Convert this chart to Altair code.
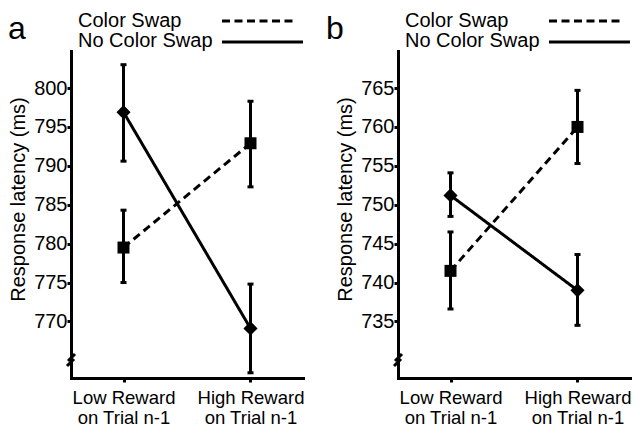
import altair as alt
import pandas as pd

FONT = "Liberation Sans"

conditions = ["Color Swap", "No Color Swap"]
rewards = ["Low Reward", "High Reward"]
label_second_line = "on Trial n-1"
y_title = "Response latency (ms)"
letters = ["a", "b"]

# Panel a values (ms)
a_swap_mean = [779.5, 792.9]
a_swap_lo = [775.0, 787.3]
a_swap_hi = [784.3, 798.3]
a_noswap_mean = [796.9, 769.1]
a_noswap_lo = [790.6, 763.4]
a_noswap_hi = [803.0, 774.8]
a_ticks = [770, 775, 780, 785, 790, 795, 800]
a_domain = [762.73, 804.76]

# Panel b values (ms)
b_swap_mean = [741.5, 760.0]
b_swap_lo = [736.6, 755.3]
b_swap_hi = [746.5, 764.7]
b_noswap_mean = [751.2, 739.0]
b_noswap_lo = [748.5, 734.5]
b_noswap_hi = [754.1, 743.6]
b_ticks = [735, 740, 745, 750, 755, 760, 765]
b_domain = [727.73, 769.76]

H = 327
W = 232


def panel(sm, sl, sh, nm, nl, nh, domain, ticks, letter, letter_x):
    df = pd.DataFrame({
        "reward": rewards * 2,
        "cond": [conditions[0]] * 2 + [conditions[1]] * 2,
        "mean": sm + nm,
        "lo": sl + nl,
        "hi": sh + nh,
    })
    xenc = alt.X(
        "reward:N", sort=rewards,
        scale=alt.Scale(type="point", padding=0.4134),
        axis=alt.Axis(title=None, labelAngle=0,
                      labelExpr="[datum.label, '" + label_second_line + "']"),
    )
    yscale = alt.Scale(domain=domain, nice=False, zero=False)
    yaxis = alt.Axis(values=ticks, title=y_title)

    def Y(field):
        return alt.Y(field + ":Q", scale=yscale, axis=yaxis, title=y_title)

    base = alt.Chart(df).encode(x=xenc)
    lines = base.mark_line(color="black", strokeWidth=3).encode(
        y=Y("mean"), detail="cond:N",
        strokeDash=alt.StrokeDash("cond:N", scale=alt.Scale(domain=conditions, range=[[8, 5], [1, 0]]), legend=None),
    )
    err = base.mark_rule(color="black", strokeWidth=3).encode(y=Y("lo"), y2="hi:Q")
    cap_lo = base.mark_tick(color="black", size=6, thickness=3, opacity=1).encode(y=Y("lo"))
    cap_hi = base.mark_tick(color="black", size=6, thickness=3, opacity=1).encode(y=Y("hi"))
    pts = base.mark_point(filled=True, color="black", opacity=1).encode(
        y=Y("mean"),
        shape=alt.Shape("cond:N", scale=alt.Scale(domain=conditions, range=["square", "diamond"]), legend=None),
        size=alt.Size("cond:N", scale=alt.Scale(domain=conditions, range=[144, 200]), legend=None),
    )

    one = pd.DataFrame({"t": [letter]})
    t1 = pd.DataFrame({"t": [conditions[0]]})
    t2 = pd.DataFrame({"t": [conditions[1]]})
    # white spacer keeping a little room above the texts
    spacer = alt.Chart(one).mark_rule(color="white", strokeWidth=1).encode(
        x=alt.value(100), x2=alt.value(101), y=alt.value(-42.5))
    letter_mark = alt.Chart(one).mark_text(align="left", baseline="top", fontSize=32, font=FONT, color="black").encode(
        text="t:N", x=alt.value(letter_x), y=alt.value(-37))
    leg1 = alt.Chart(t1).mark_text(align="left", baseline="top", fontSize=20, font=FONT, color="black").encode(
        text="t:N", x=alt.value(7), y=alt.value(-40))
    leg2 = alt.Chart(t2).mark_text(align="left", baseline="top", fontSize=20, font=FONT, color="black").encode(
        text="t:N", x=alt.value(7), y=alt.value(-20))
    legl1 = alt.Chart(t1).mark_rule(color="black", strokeWidth=3, strokeDash=[8, 4.5]).encode(
        x=alt.value(151), x2=alt.value(226), y=alt.value(-30))
    legl2 = alt.Chart(t2).mark_rule(color="black", strokeWidth=3).encode(
        x=alt.value(151), x2=alt.value(W), y=alt.value(-9))
    brk1 = alt.Chart(one).mark_rule(color="black", strokeWidth=3).encode(
        x=alt.value(-4), x2=alt.value(3), y=alt.value(315), y2=alt.value(308))
    brk2 = alt.Chart(one).mark_rule(color="black", strokeWidth=3).encode(
        x=alt.value(-3), x2=alt.value(4), y=alt.value(310), y2=alt.value(303))

    return alt.layer(spacer, lines, err, cap_lo, cap_hi, pts, letter_mark, leg1, leg2, legl1, legl2, brk1, brk2).properties(
        width=W, height=H)


pa = panel(a_swap_mean, a_swap_lo, a_swap_hi, a_noswap_mean, a_noswap_lo, a_noswap_hi,
           a_domain, a_ticks, letters[0], -63)
pb = panel(b_swap_mean, b_swap_lo, b_swap_hi, b_noswap_mean, b_noswap_lo, b_noswap_hi,
           b_domain, b_ticks, letters[1], -72)

chart = alt.hconcat(pa, pb, spacing=21).properties(padding=0).configure_view(stroke=None).configure_axis(
    domainColor="black", domainWidth=3, domainCap="square", tickColor="black", tickWidth=3, tickSize=4,
    labelFont=FONT, labelFontSize=20, labelColor="black",
    titleFont=FONT, titleFontSize=20, titleColor="black", titleFontWeight="normal", grid=False,
).configure_axisY(
    labelPadding=0, titleX=-47, titleY=148, titleBaseline="alphabetic", titleAlign="center", titleAngle=270,
).configure_axisX(
    labelPadding=6, labelFontSize=18.5, labelLineHeight=20, labelBaseline="top",
)

chart.save("out.html", embed_options={"renderer": "svg", "actions": False})
